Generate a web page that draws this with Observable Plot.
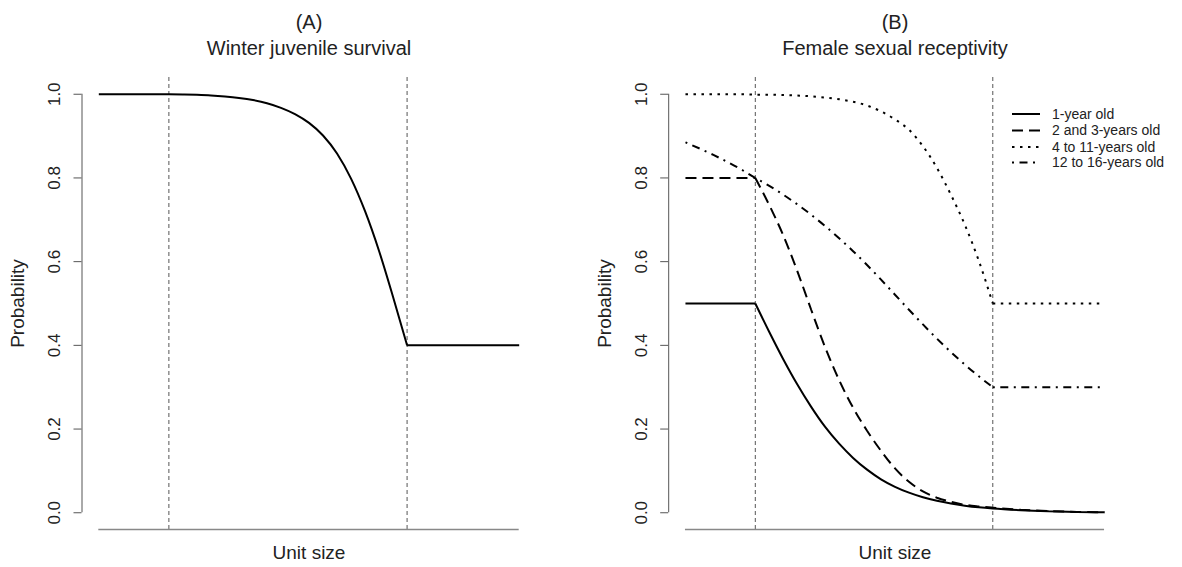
<!DOCTYPE html>
<html><head><meta charset="utf-8">
<script src="https://cdn.jsdelivr.net/npm/d3@7"></script>
<script src="https://cdn.jsdelivr.net/npm/@observablehq/plot@0.6"></script>
<style>
body{margin:0;background:#fff;}
#wrap{position:relative;width:1182px;height:567px;display:flex;font-family:"Liberation Sans",Arial,sans-serif;background:#fff;}
#legend{position:absolute;left:1000px;top:100px;}
</style></head><body><div id="wrap"></div>
<script>
// ---- data ----
const xGrid = [0, 2, 4, 5, 6, 7, 8, 9, 10, 11, 12, 13, 14, 15, 16, 17, 18, 19, 20, 21, 22, 24, 26, 28, 30];
const winterSurvival = [1, 1, 1, 1, 0.9995, 0.9985, 0.997, 0.9945, 0.991, 0.986, 0.9785, 0.9675, 0.9525, 0.9315, 0.9015, 0.8585, 0.7985, 0.7205, 0.6255, 0.5155, 0.40, 0.40, 0.40, 0.40, 0.40];
const oneYear   = [0.5, 0.5, 0.5, 0.5, 0.432, 0.367, 0.307, 0.253, 0.205, 0.165, 0.131, 0.103, 0.08, 0.062, 0.048, 0.037, 0.0285, 0.022, 0.017, 0.013, 0.010, 0.006, 0.0035, 0.002, 0.001];
const twoThree  = [0.8, 0.8, 0.8, 0.8, 0.735, 0.663, 0.578, 0.485, 0.395, 0.317, 0.251, 0.196, 0.148, 0.106, 0.074, 0.051, 0.036, 0.026, 0.019, 0.015, 0.012, 0.007, 0.004, 0.002, 0.001];
const fourEleven = [1, 1, 1, 0.999, 0.999, 0.998, 0.997, 0.995, 0.992, 0.988, 0.982, 0.973, 0.959, 0.94, 0.915, 0.876, 0.824, 0.76, 0.688, 0.602, 0.5, 0.5, 0.5, 0.5, 0.5];
const twelveSixteen = [0.885, 0.855, 0.82, 0.80, 0.781, 0.76, 0.737, 0.712, 0.685, 0.656, 0.625, 0.592, 0.557, 0.521, 0.485, 0.45, 0.416, 0.384, 0.354, 0.326, 0.30, 0.3, 0.3, 0.3, 0.3];
const seriesNames = ["1-year old", "2 and 3-years old", "4 to 11-years old", "12 to 16-years old"];
const thresholds = [5, 22];
const yTicks = [0, 0.2, 0.4, 0.6, 0.8, 1.0];
const xExtent = [0, 30];
const panelLabels = ["(A)", "(B)"];
const panelTitles = ["Winter juvenile survival", "Female sexual receptivity"];
const xLabel = "Unit size";
const yLabel = "Probability";

// ---- styles ----
const FONT = '"Liberation Sans", Arial, sans-serif';
const dashes = [null, "11,6", "2.5,5.5", "2,5.5,8,5.5"];

function toRows(values, kinks) {
  const rows = [];
  let seg = 0;
  xGrid.forEach((x, i) => {
    rows.push({x, y: values[i], seg});
    if (kinks.includes(x) && i > 0 && i < xGrid.length - 1) {
      seg++;
      rows.push({x, y: values[i], seg});
    }
  });
  return rows;
}

function panel({marginLeft, marginRight, label, title, lines}) {
  const xPad = (xExtent[1] - xExtent[0]) * 0.04;
  const yPad = 0.04;
  return Plot.plot({
    width: 591, height: 567,
    marginLeft, marginRight, marginTop: 77, marginBottom: 38,
    style: {fontFamily: FONT, background: "#fff", color: "#111", overflow: "visible"},
    x: {domain: [xExtent[0] - xPad, xExtent[1] + xPad], axis: null},
    y: {domain: [-yPad, 1 + yPad], axis: null},
    marks: [
      Plot.ruleX(thresholds, {stroke: "#555", strokeWidth: 1, strokeDasharray: "4,3"}),
      Plot.ruleY([-yPad], {x1: xExtent[0], x2: xExtent[1], stroke: "#888", strokeWidth: 1.5}),
      Plot.ruleX([xExtent[0] - xPad], {y1: 0, y2: 1, stroke: "#555", strokeWidth: 1}),
      Plot.axisY({ticks: yTicks, tickSize: 8, tickFormat: () => "", stroke: "#555", label: null}),
      Plot.text(yTicks, {frameAnchor: "left", y: d => d, text: d => d.toFixed(1), rotate: -90, dx: -27.5,
        fontSize: 17, textAnchor: "middle", lineAnchor: "middle", fill: "#222"}),
      Plot.text([yLabel], {frameAnchor: "left", text: d => d, rotate: -90, dx: -64, fontSize: 19,
        textAnchor: "middle", lineAnchor: "middle", fill: "#222"}),
      Plot.text([xLabel], {frameAnchor: "bottom", text: d => d, dy: 29.5, fontSize: 19,
        lineAnchor: "bottom", fill: "#222"}),
      Plot.text([label], {frameAnchor: "top", text: d => d, dy: -49, fontSize: 20, lineAnchor: "bottom", fill: "#222"}),
      Plot.text([title], {frameAnchor: "top", text: d => d, dy: -22.5, fontSize: 20, lineAnchor: "bottom", fill: "#222"}),
      ...lines.map(l => Plot.line(toRows(l.values, l.kinks), {
        x: "x", y: "y", z: "seg", curve: "monotone-x", stroke: "#000", strokeWidth: 2,
        strokeDasharray: l.dash, strokeLinecap: "butt", strokeLinejoin: "miter"
      }))
    ]
  });
}

const wrap = document.getElementById("wrap");
wrap.append(panel({
  marginLeft: 81.5, marginRight: 55.5, label: panelLabels[0], title: panelTitles[0],
  lines: [{values: winterSurvival, kinks: [22], dash: null}]
}));
wrap.append(panel({
  marginLeft: 77.2, marginRight: 61.2, label: panelLabels[1], title: panelTitles[1],
  lines: [
    {values: oneYear, kinks: [5], dash: dashes[0]},
    {values: twoThree, kinks: [5], dash: dashes[1]},
    {values: fourEleven, kinks: [22], dash: dashes[2]},
    {values: twelveSixteen, kinks: [22], dash: dashes[3]}
  ]
}));

// legend
const lg = d3.select(wrap).append("svg").attr("id", "legend").attr("width", 182).attr("height", 80)
  .style("font-family", FONT);
const rowsY = [14, 30.5, 47, 62.5];
seriesNames.forEach((name, i) => {
  lg.append("line").attr("x1", 12).attr("x2", 40).attr("y1", rowsY[i]).attr("y2", rowsY[i])
    .attr("stroke", "#000").attr("stroke-width", 2).attr("stroke-dasharray", dashes[i])
    .attr("stroke-linecap", "butt");
  lg.append("text").attr("x", 52).attr("y", rowsY[i]).attr("dy", "0.35em")
    .attr("font-size", 14).attr("fill", "#222").text(name);
});
</script></body></html>
